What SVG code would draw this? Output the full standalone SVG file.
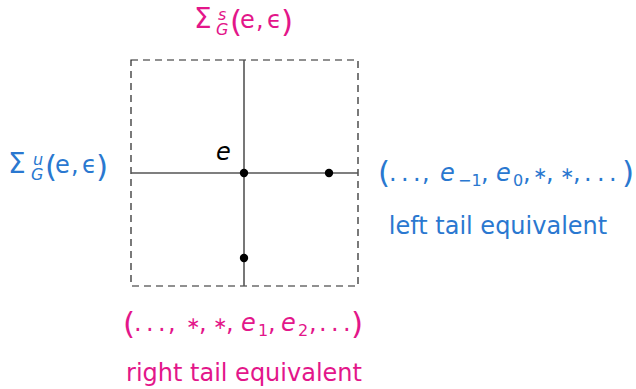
<svg xmlns="http://www.w3.org/2000/svg" width="636" height="389" viewBox="0 0 636 389">
<style>
text{font-family:"DejaVu Sans","Liberation Sans",sans-serif;font-size:24px}
.m{fill:#E3168A}
.b{fill:#2A78D0}
.i{font-style:italic}
.s{font-size:16px}
.sg{font-size:28px}
.p{font-size:31px}
.ast{font-size:17px}
.ln{stroke:#555;stroke-width:1.6;fill:none}
.box{stroke:#222;stroke-width:1.2;fill:none;stroke-dasharray:7,5}
</style>
<rect width="636" height="389" fill="#fff"/>
<g id="box"><rect class="box" x="131" y="60" width="227" height="226"/></g>
<g id="connectors">
<line class="ln" x1="244" y1="60" x2="244" y2="286"/>
<line class="ln" x1="131" y1="173" x2="358" y2="173"/>
</g>
<g id="node-e"><circle cx="244" cy="173" r="4.2"/><text class="i" x="216" y="160">e</text></g>
<g id="node-right"><circle cx="329" cy="173" r="4.2"/></g>
<g id="node-bottom"><circle cx="244" cy="258" r="4.2"/></g>
<g id="label-top"><text class="m">
<tspan class="sg" x="194" y="28">Σ</tspan><tspan class="s i" x="218" y="20">s</tspan><tspan class="s i" x="216" y="35">G</tspan><tspan class="p" x="230" y="32">(</tspan><tspan x="240" y="28">e</tspan><tspan x="256" y="28">,</tspan><tspan x="267" y="28">ϵ</tspan><tspan class="p" x="281" y="32">)</tspan>
</text></g>
<g id="label-left"><text class="b">
<tspan class="sg" x="8" y="173">Σ</tspan><tspan class="s i" x="33" y="165">u</tspan><tspan class="s i" x="31" y="180">G</tspan><tspan class="p" x="45" y="177">(</tspan><tspan x="55" y="173">e</tspan><tspan x="71" y="173">,</tspan><tspan x="82" y="173">ϵ</tspan><tspan class="p" x="96" y="177">)</tspan>
</text></g>
<g id="label-right"><text class="b">
<tspan class="p" x="378" y="183">(</tspan><tspan x="389" y="181">.</tspan><tspan x="401" y="181">.</tspan><tspan x="413" y="181">.</tspan><tspan x="422" y="181">,</tspan><tspan class="i" x="440" y="181">e</tspan><tspan class="s" x="458" y="186">−1</tspan><tspan x="481" y="181">,</tspan><tspan class="i" x="496" y="181">e</tspan><tspan class="s" x="513" y="186">0</tspan><tspan x="523" y="181">,</tspan><tspan class="ast" x="533" y="179">∗</tspan><tspan x="546" y="181">,</tspan><tspan class="ast" x="560" y="179">∗</tspan><tspan x="573" y="181">,</tspan><tspan x="584" y="181">.</tspan><tspan x="597" y="181">.</tspan><tspan x="609" y="181">.</tspan><tspan class="p" x="622" y="183">)</tspan>
</text>
<text class="b" x="498" y="234" text-anchor="middle">left tail equivalent</text></g>
<g id="label-bottom"><text class="m">
<tspan class="p" x="123" y="334">(</tspan><tspan x="134" y="331">.</tspan><tspan x="146" y="331">.</tspan><tspan x="158" y="331">.</tspan><tspan x="168" y="331">,</tspan><tspan class="ast" x="186" y="329">∗</tspan><tspan x="199" y="331">,</tspan><tspan class="ast" x="213" y="329">∗</tspan><tspan x="226" y="331">,</tspan><tspan class="i" x="241" y="331">e</tspan><tspan class="s" x="258" y="336">1</tspan><tspan x="268" y="331">,</tspan><tspan class="i" x="281" y="331">e</tspan><tspan class="s" x="298" y="336">2</tspan><tspan x="309" y="331">,</tspan><tspan x="319" y="331">.</tspan><tspan x="331" y="331">.</tspan><tspan x="343" y="331">.</tspan><tspan class="p" x="351" y="334">)</tspan>
</text>
<text class="m" x="244" y="381" text-anchor="middle">right tail equivalent</text></g>
</svg>
